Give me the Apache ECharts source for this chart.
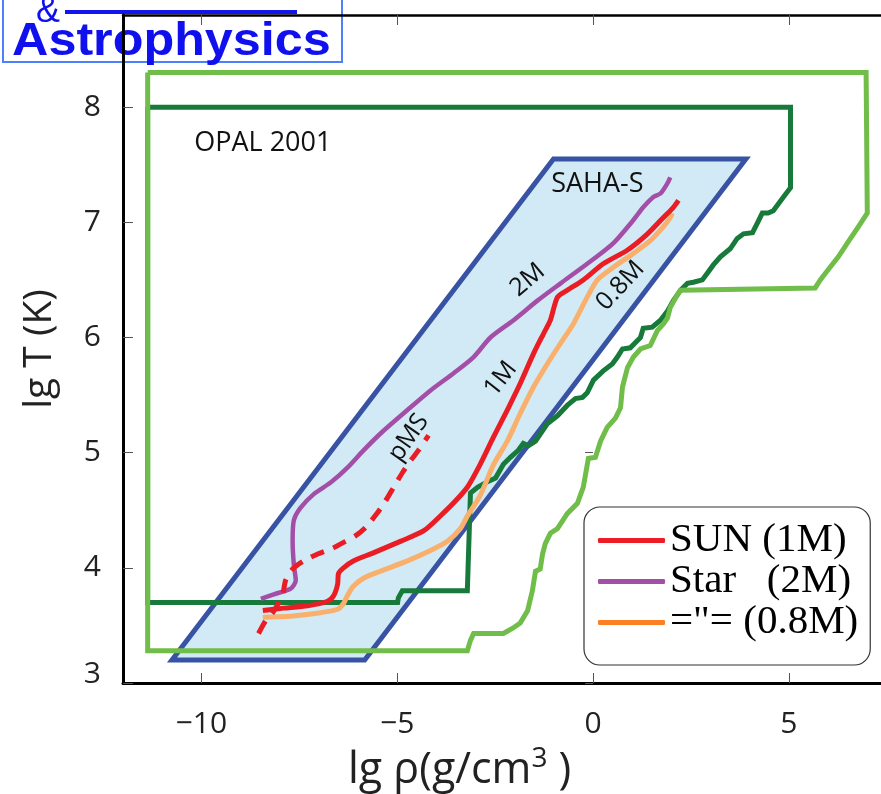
<!DOCTYPE html>
<html>
<head>
<meta charset="utf-8">
<script src="https://cdn.jsdelivr.net/npm/echarts@6/dist/echarts.min.js"></script>
<style>
  html, body { margin: 0; padding: 0; background: #fff; }
  #chart { width: 881px; height: 794px; }
</style>
</head>
<body>
<div id="chart"></div>
<script>
// Tick values on each axis
const xTicks = [-10, -5, 0, 5];
const yTicks = [3, 4, 5, 6, 7, 8];

// OPAL 2001 validity region (outer light-green contour)
const opalOuterX = [-11.37, 6.97, 7.0, 6.77, 6.49, 6.26, 5.98, 5.80, 5.67, 2.23, 2.15, 1.97, 1.90, 1.80, 1.64, 1.46, 1.21, 1.03, 0.88, 0.75, 0.70, 0.57, 0.36, 0.19, 0.06, -0.12, -0.25, -0.40, -0.66, -0.91, -1.09, -1.22, -1.29, -1.35, -1.47, -1.55, -1.67, -1.86, -2.03, -2.29, -3.05, -3.13, -3.21, -11.37, -11.37];
const opalOuterY = [8.30, 8.30, 7.08, 6.96, 6.82, 6.70, 6.58, 6.50, 6.43, 6.41, 6.37, 6.26, 6.17, 6.12, 6.06, 5.93, 5.90, 5.83, 5.74, 5.57, 5.39, 5.30, 5.22, 5.10, 4.96, 4.95, 4.70, 4.56, 4.47, 4.34, 4.30, 4.21, 4.12, 3.99, 3.97, 3.80, 3.63, 3.52, 3.48, 3.43, 3.43, 3.37, 3.28, 3.28, 8.30];

// OPAL 2001 inner dark-green contour
const opalInnerX = [-11.37, 5.04, 5.04, 4.86, 4.60, 4.47, 4.32, 4.19, 4.07, 3.84, 3.68, 3.50, 3.25, 3.07, 2.92, 2.79, 2.56, 2.41, 2.23, 2.05, 1.90, 1.72, 1.51, 1.28, 1.21, 0.95, 0.75, 0.62, 0.49, 0.26, 0.01, -0.15, -0.27, -0.45, -0.66, -0.91, -1.17, -1.47, -1.65, -1.78, -1.91, -2.11, -2.29, -2.49, -2.74, -2.95, -3.13, -3.21, -4.87, -4.97, -4.99, -11.37, -11.37];
const opalInnerY = [8.0, 8.0, 7.30, 7.22, 7.10, 7.08, 7.08, 6.99, 6.91, 6.90, 6.86, 6.77, 6.70, 6.63, 6.56, 6.50, 6.48, 6.47, 6.41, 6.32, 6.23, 6.15, 6.09, 6.08, 6.0, 5.91, 5.90, 5.83, 5.77, 5.71, 5.63, 5.52, 5.48, 5.47, 5.41, 5.32, 5.25, 5.10, 5.06, 5.08, 5.02, 4.96, 4.90, 4.78, 4.74, 4.70, 4.65, 3.80, 3.80, 3.74, 3.70, 3.70, 8.0];

// SAHA-S table domain (parallelogram)
const sahaX = [-10.75, -5.83, 3.90, -1.01];
const sahaY = [3.2, 3.2, 7.55, 7.55];

// Stellar model tracks: lg rho and lg T
const sunX = [-8.43, -7.90, -7.29, -6.78, -6.62, -6.52, -6.50, -6.37, -6.12, -5.61, -4.92, -4.33, -3.90, -3.57, -3.21, -2.88, -2.55, -2.19, -1.86, -1.52, -1.27, -1.09, -0.91, -0.66, -0.25, 0.26, 0.88, 1.39, 1.79, 2.05, 2.18];
const sunY = [3.63, 3.65, 3.67, 3.71, 3.76, 3.86, 3.95, 4.0, 4.06, 4.13, 4.23, 4.32, 4.45, 4.56, 4.70, 4.90, 5.13, 5.37, 5.60, 5.86, 6.03, 6.15, 6.35, 6.41, 6.50, 6.64, 6.76, 6.90, 7.04, 7.13, 7.19];

const star2X = [-8.48, -8.15, -7.72, -7.59, -7.64, -7.67, -7.64, -7.47, -7.13, -6.70, -6.27, -5.86, -5.35, -4.74, -4.15, -3.56, -3.05, -2.62, -2.03, -1.42, -0.83, -0.15, 0.52, 1.03, 1.28, 1.54, 1.72, 1.90, 1.97];
const star2Y = [3.73, 3.77, 3.82, 3.89, 4.03, 4.23, 4.41, 4.52, 4.64, 4.74, 4.87, 5.02, 5.19, 5.37, 5.54, 5.69, 5.83, 6.0, 6.15, 6.32, 6.47, 6.64, 6.82, 7.02, 7.13, 7.22, 7.25, 7.34, 7.39];

const star08X = [-8.43, -7.72, -6.96, -6.52, -6.37, -6.27, -6.12, -5.86, -5.43, -4.74, -4.15, -3.72, -3.39, -3.21, -2.88, -2.55, -2.19, -1.86, -1.52, -1.17, -0.83, -0.50, -0.15, 0.11, 0.52, 1.03, 1.46, 1.79, 1.97, 2.02];
const star08Y = [3.57, 3.58, 3.61, 3.64, 3.69, 3.76, 3.84, 3.91, 3.97, 4.06, 4.15, 4.23, 4.34, 4.45, 4.63, 4.89, 5.10, 5.34, 5.57, 5.77, 5.95, 6.12, 6.35, 6.50, 6.61, 6.73, 6.84, 6.96, 7.04, 7.08];

// Pre-main-sequence part of the solar track
const pmsX = [-8.54, -8.36, -8.18, -7.93, -7.85, -7.67, -7.39, -7.03, -6.65, -6.32, -6.06, -5.81, -5.50, -5.30, -5.09, -4.86, -4.66, -4.46, -4.20];
const pmsY = [3.43, 3.54, 3.61, 3.76, 3.89, 3.99, 4.06, 4.12, 4.17, 4.23, 4.28, 4.35, 4.48, 4.58, 4.70, 4.83, 4.93, 5.02, 5.15];

const legendNames = ['SUN (1M)', 'Star   (2M)', '="= (0.8M)'];

const zip = (xs, ys) => xs.map((x, i) => [x, ys[i]]);

const FONT = '"Open Sans", "DejaVu Sans", sans-serif';

const chart = echarts.init(document.getElementById('chart'));

function lineSeries(name, xs, ys, color, width, z, smooth, dash) {
  return {
    name: name,
    type: 'line',
    data: zip(xs, ys),
    showSymbol: false,
    symbol: 'none',
    smooth: smooth,
    z: z,
    color: color,
    itemStyle: { color: color },
    lineStyle: { color: color, width: width, type: dash || 'solid', join: 'miter', cap: 'butt' },
    silent: true
  };
}

const option = {
  animation: false,
  backgroundColor: '#fff',
  grid: { left: 123, right: 0, top: 15, bottom: 111, containLabel: false },
  xAxis: [{
    type: 'value', min: -12, max: 7.35, position: 'bottom',
    axisLine: { show: true, onZero: false, lineStyle: { color: '#000', width: 3 } },
    axisTick: { show: true, inside: true, length: 10, customValues: xTicks, lineStyle: { color: '#555', width: 1 } },
    axisLabel: {
      customValues: xTicks, margin: 26, fontSize: 30, fontFamily: FONT, color: '#222',
      formatter: v => (v < 0 ? '\u2212' + Math.abs(v) : String(v))
    },
    splitLine: { show: false }
  }, {
    type: 'value', min: -12, max: 7.35, position: 'top',
    axisLine: { show: true, onZero: false, lineStyle: { color: '#000', width: 2.5 } },
    axisTick: { show: true, inside: true, length: 10, customValues: xTicks, lineStyle: { color: '#555', width: 1 } },
    axisLabel: { show: false },
    splitLine: { show: false }
  }],
  yAxis: [{
    type: 'value', min: 3, max: 8.8, position: 'left',
    name: 'lg T (K)', nameLocation: 'middle', nameGap: 64, nameRotate: 90,
    nameTextStyle: { fontSize: 39, fontFamily: FONT, color: '#222' },
    axisLine: { show: true, onZero: false, lineStyle: { color: '#000', width: 3 } },
    axisTick: { show: true, inside: true, length: 10, customValues: yTicks, lineStyle: { color: '#555', width: 1 } },
    axisLabel: {
      customValues: yTicks, margin: 22, fontSize: 30, fontFamily: FONT, color: '#222',
      formatter: v => (v === 3 ? '{low|3}' : String(v)),
      rich: { low: { fontSize: 30, fontFamily: FONT, color: '#222', padding: [0, 0, 18, 0] } }
    },
    splitLine: { show: false }
  }, {
    type: 'value', min: 3, max: 8.8, position: 'right',
    axisLine: { show: false },
    axisTick: { show: true, inside: true, length: 8, customValues: yTicks, lineStyle: { color: '#555', width: 1 } },
    axisLabel: { show: false },
    splitLine: { show: false }
  }],
  legend: {
    data: [
      { name: legendNames[0], itemStyle: { color: '#ee1c25' } },
      { name: legendNames[1], itemStyle: { color: '#a34fa8' } },
      { name: legendNames[2], itemStyle: { color: '#fb8124' } }
    ],
    orient: 'vertical', left: 584, top: 507,
    padding: [13, 12, 22, 14],
    icon: 'roundRect', itemWidth: 67, itemHeight: 5, itemGap: 0,
    selectedMode: false,
    textStyle: { fontFamily: '"Liberation Serif", "DejaVu Serif", serif', fontSize: 41, lineHeight: 40, color: '#000' },
    backgroundColor: '#fff', borderColor: '#333', borderWidth: 1.2, borderRadius: 16
  },
  series: [
    {
      name: 'SAHA-S', type: 'custom', z: 1, silent: true,
      data: [[sahaX[0], sahaY[0]]],
      renderItem: function (params, api) {
        const pts = sahaX.map((x, i) => api.coord([x, sahaY[i]]));
        return {
          type: 'polygon',
          shape: { points: pts },
          style: { fill: '#d2eaf5', stroke: '#3953a4', lineWidth: 5, lineJoin: 'miter' }
        };
      }
    },
    lineSeries('OPAL inner', opalInnerX, opalInnerY, '#177a3b', 5, 3, false),
    lineSeries('OPAL outer', opalOuterX, opalOuterY, '#70bd49', 5, 4, false),
    lineSeries(legendNames[1], star2X, star2Y, '#a34fa8', 4.5, 6, 0.25),
    lineSeries(legendNames[2], star08X, star08Y, '#f8b06c', 5, 6, 0.25),
    lineSeries(legendNames[0], sunX, sunY, '#ea1d25', 5, 7, 0.25),
    lineSeries('pMS', pmsX, pmsY, '#ea1d25', 5, 7, 0.25, [14, 10])
  ]
};

chart.setOption(option);

// Text annotations placed in data coordinates
const notes = [
  { text: 'OPAL 2001', x: -8.43, y: 7.69, rot: 0, size: 27 },
  { text: 'SAHA-S', x: 0.11, y: 7.33, rot: 0, size: 27 },
  { text: '2M', x: -1.67, y: 6.50, rot: 40, size: 25 },
  { text: '0.8M', x: 0.70, y: 6.45, rot: 47, size: 25 },
  { text: '1M', x: -2.36, y: 5.64, rot: 52, size: 25 },
  { text: 'pMS', x: -4.71, y: 5.13, rot: 55, size: 25 }
];

const graphics = notes.map(n => {
  const p = chart.convertToPixel({ gridIndex: 0 }, [n.x, n.y]);
  return {
    type: 'text', x: p[0], y: p[1], rotation: n.rot * Math.PI / 180, z: 20,
    style: { text: n.text, font: n.size + 'px ' + FONT, fill: '#111', align: 'center', verticalAlign: 'middle' }
  };
});

// x-axis title with superscript exponent
graphics.push({
  type: 'text', x: 348, y: 771, z: 20,
  style: {
    text: '{a|lg \u03c1(g/cm}{s|3}{a| )}',
    verticalAlign: 'middle', align: 'left',
    rich: {
      a: { font: '43px ' + FONT, fill: '#222' },
      s: { font: '28px ' + FONT, fill: '#222', padding: [0, 0, 24, 0] }
    }
  }
});

// Journal badge in the upper-left corner
graphics.push({
  type: 'group', z: 50,
  children: [
    { type: 'rect', shape: { x: 3, y: -5, width: 339, height: 67 }, style: { fill: '#fff', stroke: '#4d80ff', lineWidth: 2 } },
    { type: 'line', shape: { x1: 65, y1: 12, x2: 297, y2: 12 }, style: { stroke: '#1414ee', lineWidth: 4 } },
    { type: 'text', x: 13, y: 42, scaleX: 1.07, originX: 13, style: { text: 'Astrophysics', font: 'bold 47px "Liberation Sans", Arial, sans-serif', fill: '#1010ee', verticalAlign: 'middle', align: 'left' } },
    { type: 'text', x: 36, y: 12, style: { text: '&', font: '36px "Liberation Sans", Arial, sans-serif', fill: '#1010ee', verticalAlign: 'middle', align: 'left' } }
  ]
});

chart.setOption({ graphic: graphics });
</script>
</body>
</html>
